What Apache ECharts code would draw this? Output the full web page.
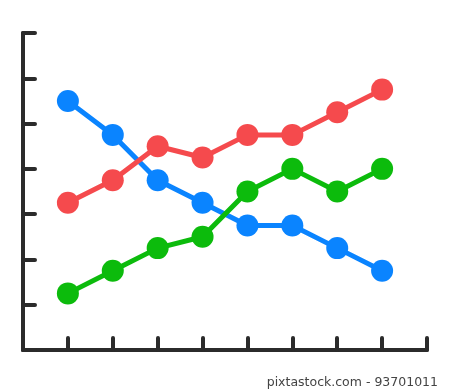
<!DOCTYPE html>
<html><head><meta charset="utf-8">
<script src="https://cdn.jsdelivr.net/npm/echarts@6/dist/echarts.min.js"></script>
<style>html,body{margin:0;padding:0;background:#fff}#c{width:450px;height:391px}</style>
</head><body><div id="c"></div>
<script>
const xPositions = [1, 2, 3, 4, 5, 6, 7, 8];
const blueValues = [5.5, 4.75, 3.75, 3.25, 2.75, 2.75, 2.25, 1.75];
const redValues = [3.25, 3.75, 4.5, 4.25, 4.75, 4.75, 5.25, 5.75];
const greenValues = [1.25, 1.75, 2.25, 2.5, 3.5, 4, 3.5, 4];
const caption = 'pixtastock.com - 93701011';

const chart = echarts.init(document.getElementById('c'));
const axisColor = '#2b2b2b';
function mk(name, vals, color) {
  return {
    name, type: 'line', data: vals.map((v, i) => [xPositions[i], v]),
    symbol: 'circle', symbolSize: 22,
    lineStyle: { color, width: 5 }, itemStyle: { color },
    emphasis: { disabled: true }, animation: false
  };
}
chart.setOption({
  animation: false,
  grid: { left: 23, right: 23, top: 33, bottom: 41 },
  title: { text: caption, right: 12, bottom: 2, padding: 0, textStyle: { fontSize: 12.5, fontWeight: 'normal', color: '#444', fontFamily: 'DejaVu Sans' } },
  xAxis: {
    type: 'value', min: 0, max: 9, interval: 1,
    axisLine: { lineStyle: { color: axisColor, width: 4, cap: 'round' } },
    axisTick: { inside: true, length: 12, lineStyle: { color: axisColor, width: 4, cap: 'round' } },
    axisLabel: { show: false }, splitLine: { show: false }
  },
  yAxis: {
    type: 'value', min: 0, max: 7, interval: 1,
    axisLine: { show: true, lineStyle: { color: axisColor, width: 4, cap: 'round' } },
    axisTick: { show: true, inside: true, length: 12, lineStyle: { color: axisColor, width: 4, cap: 'round' } },
    axisLabel: { show: false }, splitLine: { show: false }
  },
  series: [
    mk('blue', blueValues, '#0a84ff'),
    mk('red', redValues, '#f54a4d'),
    mk('green', greenValues, '#0cbb0c')
  ]
});
</script></body></html>
